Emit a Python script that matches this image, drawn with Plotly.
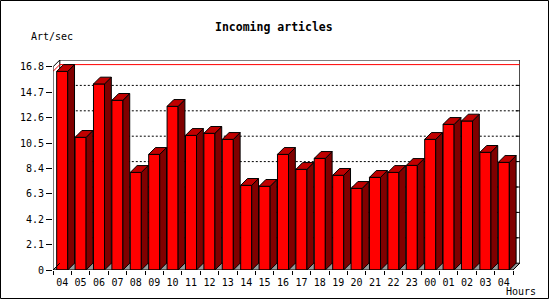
import plotly.graph_objects as go

# ---------------- data ----------------
hours = ["04", "05", "06", "07", "08", "09", "10", "11", "12", "13", "14", "15",
         "16", "17", "18", "19", "20", "21", "22", "23", "00", "01", "02", "03", "04"]
articles_per_sec = [16.42, 10.97, 15.38, 14.03, 8.07, 9.56, 13.53, 11.13, 11.30, 10.80,
                    7.00, 6.92, 9.56, 8.32, 9.23, 7.83, 6.75, 7.66, 8.07, 8.65,
                    10.80, 12.04, 12.32, 9.73, 8.90]
y_ticks = [0, 2.1, 4.2, 6.3, 8.4, 10.5, 12.6, 14.7, 16.8]
y_tick_labels = ["0", "2.1", "4.2", "6.3", "8.4", "10.5", "12.6", "14.7", "16.8"]

# ---------------- geometry ----------------
W, H = 550, 300
PL, PR, PT, PB = 53, 520, 60, 270          # plot area in pixels
SLOT = 18.4                                 # px per category
DEPTH = 6.8                                 # 3-D depth in px
n = len(hours)
y_top = y_ticks[-1]
sy = ((PB - PT) - DEPTH) / y_top            # px per unit
DX = DEPTH / SLOT
DY = DEPTH / sy
BW = 0.6                                    # bar front width (category units)
x_lo = -0.5
x_hi = x_lo + (PR - PL) / SLOT
x_end = n - 0.5

FONT = "DejaVu Sans Mono"

xs = list(range(n))

# top and side faces of the 3D bars (computed from data)
top_x, top_y, side_x, side_y = [], [], [], []
for x, v in zip(xs, articles_per_sec):
    l, r = x - BW / 2, x + BW / 2
    top_x += [l, r, r + DX, l + DX, l, None]
    top_y += [v, v, v + DY, v + DY, v, None]
    side_x += [r, r + DX, r + DX, r, r, None]
    side_y += [0, DY, v + DY, v, 0, None]

fig = go.Figure()
fig.add_trace(go.Bar(x=xs, y=articles_per_sec, width=BW,
                     marker=dict(color="#ff0000", line=dict(color="black", width=1)),
                     hoverinfo="skip"))
fig.add_trace(go.Scatter(x=side_x, y=side_y, mode="lines", fill="toself",
                         fillcolor="#800000", line=dict(color="black", width=1),
                         hoverinfo="skip"))
fig.add_trace(go.Scatter(x=top_x, y=top_y, mode="lines", fill="toself",
                         fillcolor="#c00000", line=dict(color="black", width=1),
                         hoverinfo="skip"))

shapes = []
# floor
shapes.append(dict(type="path", xref="x", yref="y", layer="below",
                   path=f"M {x_lo},0 L {x_end},0 L {x_end+DX},{DY} L {x_lo+DX},{DY} Z",
                   fillcolor="#999999", line=dict(width=0)))
# back wall frame
shapes.append(dict(type="rect", xref="x", yref="y", layer="below",
                   x0=x_lo + DX, y0=DY, x1=x_end + DX, y1=y_top + DY,
                   line=dict(color="black", width=1)))
# dotted gridlines on back wall + small right ticks
tick_dx = 4 / SLOT
for v in y_ticks[1:-1]:
    shapes.append(dict(type="line", xref="x", yref="y", layer="below",
                       x0=x_lo + DX, x1=x_end + DX, y0=v + DY, y1=v + DY,
                       line=dict(color="black", width=1, dash="2px,2px")))
    shapes.append(dict(type="line", xref="x", yref="y", layer="below",
                       x0=x_end + DX - tick_dx, x1=x_end + DX, y0=v + DY, y1=v + DY,
                       line=dict(color="black", width=1)))
# max line (red)
vmax = max(articles_per_sec)
shapes.append(dict(type="path", xref="x", yref="y", layer="below",
                   path=f"M {x_lo},{vmax} L {x_lo+DX},{vmax+DY} L {x_end+DX},{vmax+DY}",
                   line=dict(color="#ff0000", width=1)))
# front axes and corner diagonals
for (x0, y0, x1, y1) in [
    (x_lo, 0, x_lo, y_top),
    (x_lo, y_top, x_lo + DX, y_top + DY),
    (x_lo, 0, x_end, 0),
    (x_end, 0, x_end + DX, DY),
    (x_lo, 0, x_lo + DX, DY),
]:
    shapes.append(dict(type="line", xref="x", yref="y", layer="above",
                       x0=x0, y0=y0, x1=x1, y1=y1,
                       line=dict(color="black", width=1)))


def px2paper_x(px):
    return (px - PL) / (PR - PL)


def px2paper_y(py):
    return (PB - py) / (PB - PT)


# outer border
shapes.append(dict(type="rect", xref="paper", yref="paper", layer="above",
                   x0=px2paper_x(0.5), x1=px2paper_x(W - 1.5),
                   y0=px2paper_y(H - 1.5), y1=px2paper_y(0.5),
                   line=dict(color="black", width=1)))

annotations = [
    dict(text="<b>Incoming articles</b>", xref="paper", yref="paper",
         x=px2paper_x(274), y=px2paper_y(27), xanchor="center", yanchor="middle",
         showarrow=False, font=dict(family=FONT, size=11.5, color="black")),
    dict(text="Art/sec", xref="paper", yref="paper",
         x=px2paper_x(29), y=px2paper_y(37), xanchor="left", yanchor="middle",
         showarrow=False, font=dict(family=FONT, size=10, color="black")),
    dict(text="Hours", xref="paper", yref="paper",
         x=px2paper_x(504), y=px2paper_y(291), xanchor="left", yanchor="middle",
         showarrow=False, font=dict(family=FONT, size=10, color="black")),
]

fig.update_layout(
    width=W, height=H,
    margin=dict(l=PL, r=W - PR, t=PT, b=H - PB, pad=0),
    paper_bgcolor="white", plot_bgcolor="white",
    showlegend=False,
    shapes=shapes, annotations=annotations,
    font=dict(family=FONT, size=10, color="black"),
    xaxis=dict(range=[x_lo, x_hi], tickmode="array", tickvals=xs, ticktext=hours,
               ticks="outside", ticklen=3, tickcolor="rgba(0,0,0,0)",
               showgrid=False, zeroline=False, showline=False, fixedrange=True,
               tickfont=dict(family=FONT, size=10, color="black"),
               minor=dict(tickmode="array", tickvals=[x - 0.5 for x in range(n + 1)],
                          ticks="outside", ticklen=4, tickcolor="black", tickwidth=1,
                          showgrid=False)),
    yaxis=dict(range=[0, y_top + DY], tickmode="array", tickvals=y_ticks,
               ticktext=y_tick_labels, ticks="outside", ticklen=6, tickcolor="black",
               tickwidth=1, showgrid=False, zeroline=False, showline=False,
               fixedrange=True, tickfont=dict(family=FONT, size=10, color="black")),
)

fig.write_html("out.html")
